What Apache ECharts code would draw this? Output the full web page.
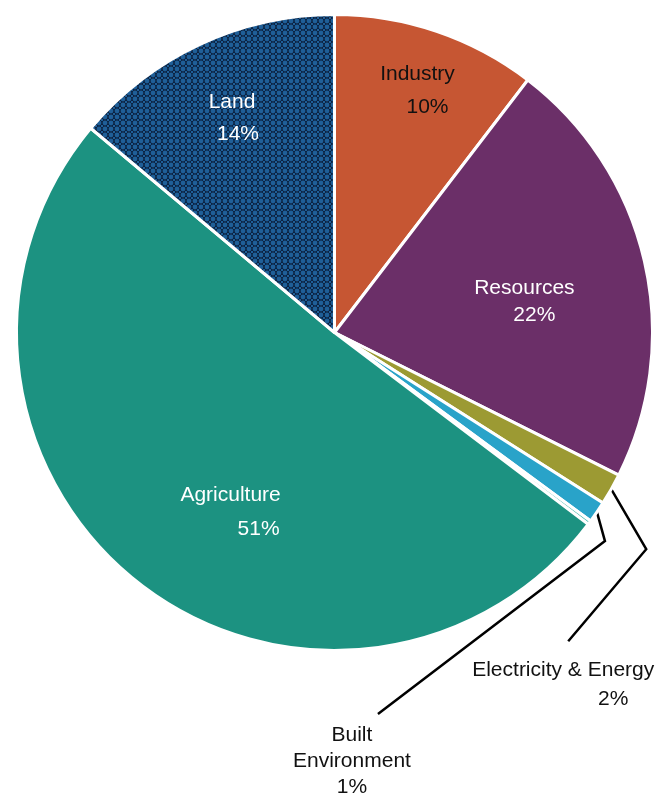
<!DOCTYPE html>
<html>
<head>
<meta charset="utf-8">
<script src="https://cdn.jsdelivr.net/npm/echarts@6/dist/echarts.min.js"></script>
<style>
  html, body { margin: 0; padding: 0; background: #ffffff; }
  #chart { width: 656px; height: 794px; }
</style>
</head>
<body>
<div id="chart"></div>
<script>
// Sectors, clockwise from the top
const categories = ['Industry', 'Resources', 'Electricity & Energy', 'Built Environment', 'Other', 'Agriculture', 'Land'];
const shares = [10.4, 22.0, 1.6, 1.1, 0.2, 50.8, 13.9];
const sliceColors = ['#c65633', '#6b2f68', '#9c9a33', '#29a3c9', '#52bdb3', '#1c9281', null];

const FONT = "'Liberation Sans', Arial, Helvetica, sans-serif";

// Dotted fill used by the Land sector
function makeDotPattern() {
  const c = document.createElement('canvas');
  c.width = 6; c.height = 6;
  const g = c.getContext('2d');
  g.fillStyle = '#0c2240';
  g.fillRect(0, 0, 6, 6);
  g.fillStyle = '#1f5f98';
  g.beginPath();
  g.arc(3, 3, 2.4, 0, Math.PI * 2);
  g.fill();
  g.fillRect(0, 0, 1, 1);
  g.fillRect(5, 0, 1, 1);
  g.fillRect(0, 5, 1, 1);
  g.fillRect(5, 5, 1, 1);
  return c;
}

// Per-sector label styling
const insideLabels = {
  'Industry':    { color: '#111111', offset: [31, -88], lh: 33, shift: 20 },
  'Resources':   { color: '#ffffff', offset: [32, 6],   lh: 27, shift: 20 },
  'Agriculture': { color: '#ffffff', offset: [-3, 53],  lh: 34, shift: 56 },
  'Land':        { color: '#ffffff', offset: [-34, -67], lh: 32, shift: 12 }
};
// Leader lines for the small sectors: bend point and label anchor relative to the sector edge
const outsideLabels = {
  'Electricity & Energy': { bend: [35, 60], end: [-43, 152], text: [-48, 167], lh: 29, shift: 100 },
  'Built Environment':    { bend: [8, 29], end: [-219, 202], text: [-245, 210], lh: 26, shift: 0 }
};

const pieData = categories.map((name, i) => {
  const item = { name: name, value: shares[i], itemStyle: {} };
  if (name === 'Land') {
    item.itemStyle.color = { image: makeDotPattern(), repeat: 'repeat' };
  } else {
    item.itemStyle.color = sliceColors[i];
  }
  if (insideLabels[name]) {
    const s = insideLabels[name];
    item.label = {
      show: true,
      position: 'inside',
      offset: s.offset,
      color: s.color,
      rich: {
        n: { fontSize: 21, fontFamily: FONT, color: s.color, lineHeight: s.lh },
        p: { fontSize: 21, fontFamily: FONT, color: s.color, lineHeight: s.lh, padding: [0, 0, 0, s.shift] }
      }
    };
    item.labelLine = { show: false };
  } else if (outsideLabels[name]) {
    const s = outsideLabels[name];
    const rich = {
      n: { fontSize: 21, fontFamily: FONT, color: '#111111', lineHeight: s.lh },
      p: { fontSize: 21, fontFamily: FONT, color: '#111111', lineHeight: s.lh, padding: [0, 0, 0, s.shift] }
    };
    item.label = {
      show: true,
      position: 'outside',
      color: '#111111',
      rich: rich,
      formatter: name === 'Built Environment'
        ? (p) => '{n|Built}\n{n|Environment}\n{p|' + p.percent + '%}'
        : (p) => '{n|' + p.name + '}\n{p|' + p.percent + '%}'
    };
    item.labelLine = { show: true, lineStyle: { color: '#000000', width: 2.5 } };
  } else {
    item.label = { show: false };
    item.labelLine = { show: false };
  }
  return item;
});

const chart = echarts.init(document.getElementById('chart'), null, { renderer: 'canvas' });
chart.setOption({
  backgroundColor: '#ffffff',
  animation: false,
  series: [{
    type: 'pie',
    center: [334.5, 332.5],
    radius: [0, 318],
    startAngle: 90,
    clockwise: true,
    percentPrecision: 0,
    avoidLabelOverlap: false,
    itemStyle: { borderColor: '#ffffff', borderWidth: 3 },
    label: {
      fontFamily: FONT,
      fontSize: 21,
      align: 'center',
      formatter: (p) => '{n|' + p.name + '}\n{p|' + p.percent + '%}'
    },
    labelLine: { length: 10, length2: 10, smooth: false },
    emphasis: { disabled: true },
    labelLayout: function (params) {
      const name = categories[params.dataIndex];
      const s = outsideLabels[name];
      if (!s || !params.labelLinePoints) return {};
      const p0 = params.labelLinePoints[0];
      return {
        x: p0[0] + s.text[0],
        y: p0[1] + s.text[1],
        align: 'center',
        verticalAlign: 'top',
        labelLinePoints: [
          [p0[0], p0[1]],
          [p0[0] + s.bend[0], p0[1] + s.bend[1]],
          [p0[0] + s.end[0], p0[1] + s.end[1]]
        ]
      };
    },
    data: pieData
  }]
});
</script>
</body>
</html>
